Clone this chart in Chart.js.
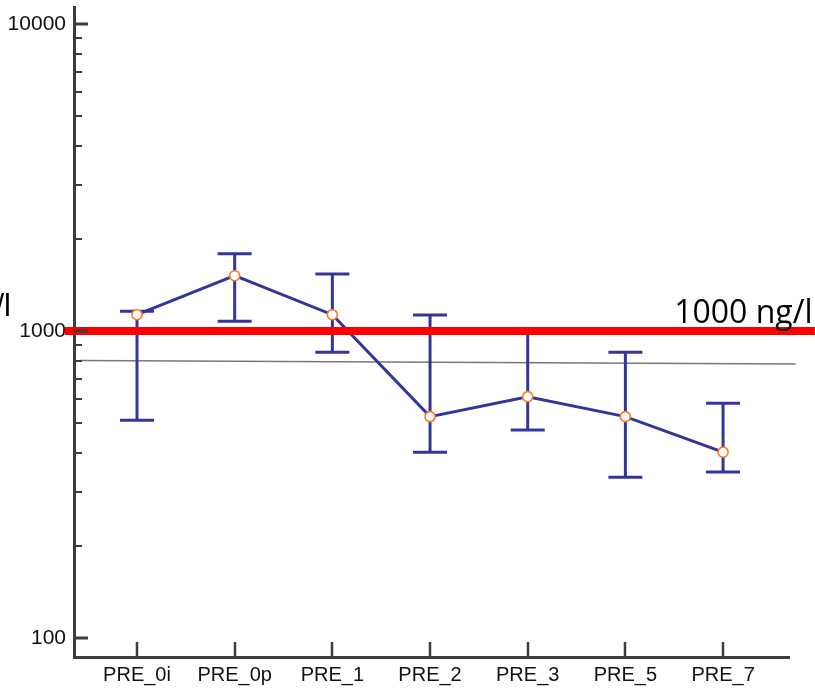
<!DOCTYPE html>
<html>
<head>
<meta charset="utf-8">
<script src="https://cdn.jsdelivr.net/npm/chart.js@4/dist/chart.umd.min.js"></script>
<style>
html,body{margin:0;padding:0;background:#fff;}
canvas{display:block;}
</style>
</head>
<body>
<canvas id="c" width="815" height="689"></canvas>
<script>
// ---- data ----
const categories = ["PRE_0i", "PRE_0p", "PRE_1", "PRE_2", "PRE_3", "PRE_5", "PRE_7"];
const meanValues = [1130, 1514, 1130, 526, 611, 526, 403];
const errHigh    = [1159, 1786, 1534, 1127, 1000, 852, 582];
const errLow     = [512, 1075, 852, 403, 476, 334, 347];
const thresholdValue = 1000;
const thresholdLabel = "1000 ng/l";
const thresholdSpanX = [-0.74, 6.94];
const trendX = [-0.584, 6.744];
const trendY = [801, 781];
const yMajorTicks = [100, 1000, 10000];
const yMinorMultipliers = [2, 3, 4, 5, 6, 7, 8, 9];
const yAxisTitle = "ng/l";

// ---- derived ----
const yTickValues = [];
yMajorTicks.forEach((m, k) => {
  yTickValues.push(m);
  if (k < yMajorTicks.length - 1) yMinorMultipliers.forEach(f => yTickValues.push(m * f));
});
const BLUE = '#34349a';
const AXIS = '#3c3c3c';

const decorPlugin = {
  id: 'decor',
  afterDatasetDraw(chart, args) {
    if (args.index !== 2) return; // after trend line, before series
    const x = chart.scales.x, y = chart.scales.y, ctx = chart.ctx;
    ctx.save();
    ctx.strokeStyle = BLUE;
    ctx.lineWidth = 3;
    ctx.lineCap = 'butt';
    const half = 17;
    categories.forEach((c, i) => {
      const px = x.getPixelForValue(i);
      const pt = y.getPixelForValue(errHigh[i]);
      const pb = y.getPixelForValue(errLow[i]);
      ctx.beginPath();
      ctx.moveTo(px, pt); ctx.lineTo(px, pb);
      ctx.moveTo(px - half, pt); ctx.lineTo(px + half, pt);
      ctx.moveTo(px - half, pb); ctx.lineTo(px + half, pb);
      ctx.stroke();
    });
    ctx.restore();
  },
  afterDraw(chart) {
    const x = chart.scales.x, y = chart.scales.y, ctx = chart.ctx;
    const area = chart.chartArea;
    ctx.save();
    ctx.strokeStyle = AXIS;
    // y ticks inward
    y.ticks.forEach(t => {
      const py = Math.round(y.getPixelForValue(t.value));
      const major = yMajorTicks.includes(t.value);
      ctx.lineWidth = major ? 3 : 2;
      ctx.beginPath();
      ctx.moveTo(area.left, py);
      ctx.lineTo(area.left + (major ? 14 : 8), py);
      ctx.stroke();
    });
    // x ticks inward
    x.ticks.forEach(t => {
      const px = Math.round(x.getPixelForValue(t.value));
      ctx.lineWidth = 2.5;
      ctx.beginPath();
      ctx.moveTo(px, area.bottom);
      ctx.lineTo(px, area.bottom - 15);
      ctx.stroke();
    });
    // threshold label
    ctx.fillStyle = '#000';
    ctx.font = '32px "Open Sans", sans-serif';
    ctx.textAlign = 'left';
    ctx.textBaseline = 'alphabetic';
    ctx.fillText(thresholdLabel, x.getPixelForValue(5.5), y.getPixelForValue(thresholdValue) - 8);
    // clipped y-axis title
    ctx.font = '31px "Liberation Sans", Arial, sans-serif';
    ctx.textAlign = 'right';
    ctx.fillText(yAxisTitle, 11, y.getPixelForValue(thresholdValue) - 15);
    ctx.restore();
  }
};

new Chart(document.getElementById('c'), {
  type: 'line',
  data: {
    datasets: [
      {
        label: 'threshold',
        data: thresholdSpanX.map(v => ({ x: v, y: thresholdValue })),
        borderColor: '#ff0000',
        borderWidth: 8,
        pointRadius: 0,
        clip: false,
        order: 0
      },
      {
        label: 'mean',
        data: meanValues.map((v, i) => ({ x: i, y: v })),
        borderColor: BLUE,
        borderWidth: 3,
        pointRadius: 5,
        pointBorderColor: '#ff7a1c',
        pointBackgroundColor: '#ffffff',
        pointBorderWidth: 1.6,
        order: 1
      },
      {
        label: 'trend',
        data: trendX.map((v, i) => ({ x: v, y: trendY[i] })),
        borderColor: '#777777',
        borderWidth: 1.5,
        pointRadius: 0,
        clip: false,
        order: 2
      }
    ]
  },
  options: {
    responsive: false,
    animation: false,
    events: [],
    layout: { padding: { top: 7, right: 26, left: 0, bottom: 0 } },
    plugins: { legend: { display: false }, tooltip: { enabled: false } },
    scales: {
      x: {
        type: 'linear',
        min: -0.645,
        max: 6.675,
        afterBuildTicks: s => { s.ticks = categories.map((c, i) => ({ value: i })); },
        afterFit: s => { s.height = 32; s.paddingLeft = 0; s.paddingRight = 0; s.paddingTop = 0; s.paddingBottom = 0; },
        grid: { drawOnChartArea: false, drawTicks: false },
        border: { display: true, color: AXIS, width: 3 },
        ticks: {
          autoSkip: false,
          maxRotation: 0,
          padding: 6,
          color: '#111',
          font: { family: '"Liberation Sans", Arial, sans-serif', size: 20 },
          callback: v => categories[v]
        }
      },
      y: {
        type: 'logarithmic',
        min: 86.7,
        max: 11361,
        afterBuildTicks: s => { s.ticks = yTickValues.map(v => ({ value: v })); },
        afterFit: s => { s.width = 74; s.paddingTop = 0; s.paddingBottom = 0; s.paddingLeft = 0; s.paddingRight = 0; },
        grid: { drawOnChartArea: false, drawTicks: false },
        border: { display: true, color: AXIS, width: 3 },
        ticks: {
          autoSkip: false,
          padding: 8,
          color: '#111',
          font: { family: '"Liberation Sans", Arial, sans-serif', size: 21 },
          callback: v => (yMajorTicks.includes(v) ? String(v) : '')
        }
      }
    }
  },
  plugins: [decorPlugin]
});
</script>
</body>
</html>
